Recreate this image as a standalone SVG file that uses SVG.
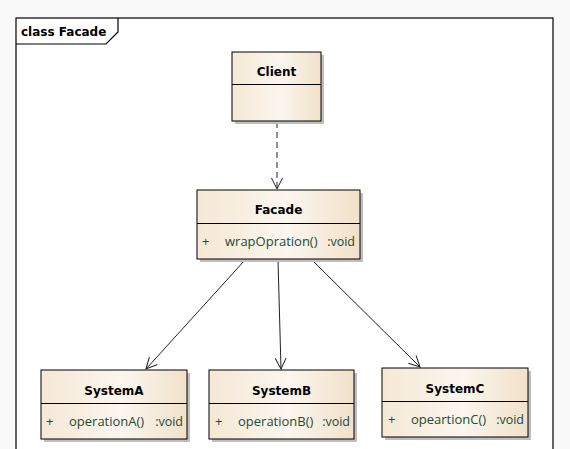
<svg xmlns="http://www.w3.org/2000/svg" width="570" height="449" viewBox="0 0 570 449">
  <style>
    .frame { fill: #ffffff; stroke: #000000; stroke-width: 1.2; }
    .box { fill: url(#classFill); stroke: #000000; stroke-width: 1; }
    .shadow { fill: #bfbfbf; }
    .div { stroke: #000000; stroke-width: 1; }
    .title { font-family: "DejaVu Sans", "Liberation Sans", sans-serif; font-weight: bold; font-size: 12px; fill: #000000; }
    .name { font-family: "DejaVu Sans", "Liberation Sans", sans-serif; font-weight: bold; font-size: 12px; fill: #000000; text-anchor: middle; }
    .member { font-family: "Open Sans", "Liberation Sans", sans-serif; font-size: 13px; fill: #1d4a37; }
    .type { text-anchor: end; font-size: 12.5px; }
    .edge { fill: none; stroke: #222222; stroke-width: 1; }
    .dash { stroke-dasharray: 6 4; }
  </style>
  <defs>
    <linearGradient id="classFill" x1="0" y1="0" x2="1" y2="0">
      <stop offset="0" stop-color="#f5e8d5"/>
      <stop offset="0.55" stop-color="#fbf6ee"/>
      <stop offset="1" stop-color="#f1e1ca"/>
    </linearGradient>
    <marker id="openArrow" markerWidth="14" markerHeight="14" refX="12" refY="7" orient="auto" markerUnits="userSpaceOnUse">
      <path d="M1,1.5 L12,7 L1,12.5" fill="none" stroke="#222222" stroke-width="1"/>
    </marker>
  </defs>

  <!-- page background -->
  <rect x="0" y="0" width="570" height="449" fill="#f9f9f9"/>

  <!-- diagram frame -->
  <g id="frame">
    <rect class="frame" x="16" y="18" width="537" height="440"/>
    <path d="M16,44 L106,44 L118,32 L118,18" fill="none" stroke="#000000" stroke-width="1.2"/>
    <text class="title" x="21" y="36">class Facade</text>
  </g>

  <!-- connectors -->
  <g id="connectors">
    <line class="edge dash" x1="277" y1="122" x2="277" y2="189" marker-end="url(#openArrow)"/>
    <line class="edge" x1="245" y1="260" x2="146" y2="369" marker-end="url(#openArrow)"/>
    <line class="edge" x1="278" y1="260" x2="281" y2="369" marker-end="url(#openArrow)"/>
    <line class="edge" x1="312" y1="260" x2="420" y2="367" marker-end="url(#openArrow)"/>
  </g>

  <!-- Client -->
  <g id="Client">
    <rect class="shadow" x="235" y="55" width="89" height="69"/>
    <rect class="box" x="232" y="52" width="89" height="69"/>
    <line class="div" x1="232" y1="84.5" x2="321" y2="84.5"/>
    <text class="name" x="276.5" y="76">Client</text>
  </g>

  <!-- Facade -->
  <g id="Facade">
    <rect class="shadow" x="200" y="193" width="163" height="69"/>
    <rect class="box" x="197" y="190" width="163" height="69"/>
    <line class="div" x1="197" y1="223.5" x2="360" y2="223.5"/>
    <text class="name" x="278.5" y="214">Facade</text>
    <text class="member" x="202" y="246">+</text>
    <text class="member" x="225" y="246">wrapOpration()</text>
    <text class="member type" x="355" y="246">:void</text>
  </g>

  <!-- SystemA -->
  <g id="SystemA">
    <rect class="shadow" x="44" y="373" width="146" height="69"/>
    <rect class="box" x="41" y="370" width="146" height="69"/>
    <line class="div" x1="41" y1="403.5" x2="187" y2="403.5"/>
    <text class="name" x="114" y="395">SystemA</text>
    <text class="member" x="46" y="426">+</text>
    <text class="member" x="69" y="426">operationA()</text>
    <text class="member type" x="183" y="426">:void</text>
  </g>

  <!-- SystemB -->
  <g id="SystemB">
    <rect class="shadow" x="212" y="373" width="145" height="69"/>
    <rect class="box" x="209" y="370" width="145" height="69"/>
    <line class="div" x1="209" y1="403.5" x2="354" y2="403.5"/>
    <text class="name" x="281.5" y="395">SystemB</text>
    <text class="member" x="215" y="426">+</text>
    <text class="member" x="238" y="426">operationB()</text>
    <text class="member type" x="350" y="426">:void</text>
  </g>

  <!-- SystemC -->
  <g id="SystemC">
    <rect class="shadow" x="385" y="371" width="146" height="69"/>
    <rect class="box" x="382" y="368" width="146" height="69"/>
    <line class="div" x1="382" y1="401.5" x2="528" y2="401.5"/>
    <text class="name" x="455" y="393">SystemC</text>
    <text class="member" x="388" y="424">+</text>
    <text class="member" x="411" y="424">opeartionC()</text>
    <text class="member type" x="524" y="424">:void</text>
  </g>
</svg>
